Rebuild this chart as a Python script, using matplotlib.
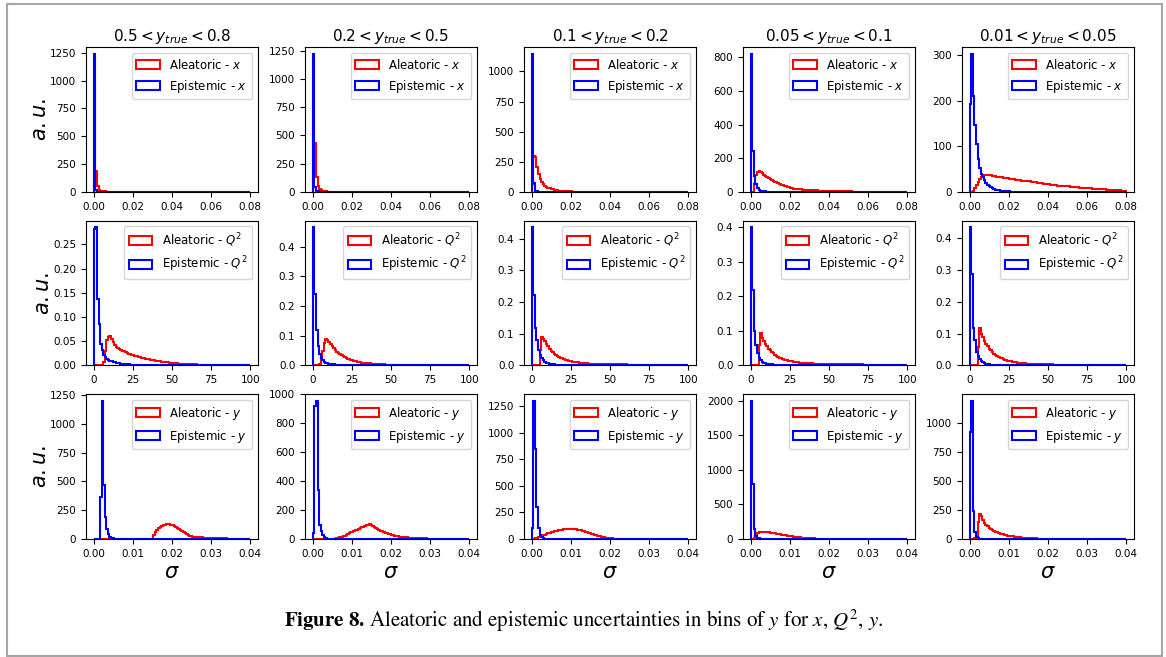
import numpy as np
import matplotlib
matplotlib.use("Agg")
from matplotlib import pyplot as plt
from matplotlib.patches import Rectangle

# bin titles (columns) and variables (rows)
titles = [r"$0.5 < y_{true} < 0.8$", r"$0.2 < y_{true} < 0.5$", r"$0.1 < y_{true} < 0.2$",
          r"$0.05 < y_{true} < 0.1$", r"$0.01 < y_{true} < 0.05$"]
variables = ["x", "Q^2", "y"]
x_max = [0.08, 100, 0.04]
n_bins = 100

# histogram heights per bin (leading bins first, the rest are empty)
ale_x = [
    [960, 190, 57, 22, 12, 8, 6, 5, 4, 3, 3, 2, 2, 2, 1, 1, 1, 1, 1, 1],
    [540, 435, 135, 55, 25, 14, 9, 6, 5, 4, 3, 3, 2, 2, 2, 1, 1, 1, 1, 1],
    [70, 295, 290, 205, 150, 110, 82, 62, 50, 42, 35, 30, 26, 22, 19, 16, 14, 12, 10, 9,
     8, 7, 6, 5, 5, 4, 3, 3, 3, 3, 3, 2, 2, 2, 2, 2, 2, 2, 2, 2, 2] + [1] * 14,
    [0, 0, 45, 100, 120, 122, 118, 110, 102, 95, 88, 82, 76, 70, 65, 61, 57, 52, 47, 43,
     40, 36, 33, 30, 27, 24, 22, 20, 19, 18, 17, 16, 15, 14, 13, 12, 12, 11, 11, 10,
     10, 9, 9, 8, 8, 8, 7, 7, 7, 6, 6, 6, 5, 5, 5, 5, 4, 4, 4, 4,
     3, 3, 3, 3, 3, 2, 2, 2, 2, 2, 2] + [1] * 15,
    [0, 0, 3, 8, 15, 22, 28, 32, 35, 37, 38, 38, 37, 37, 36, 35, 34, 33, 33, 32,
     32, 31, 31, 30, 30, 29, 29, 28, 28, 27, 27, 26, 26, 25, 25, 24, 24, 23, 23, 22,
     22, 21, 21, 20, 20, 19, 19, 18, 18, 17, 17, 16, 16, 15, 15, 15, 14, 14, 13, 13,
     13, 12, 12, 12, 11, 11, 11, 10, 10, 10, 9, 9, 9, 9, 8, 8, 8, 8, 7, 7,
     7, 7, 6, 6, 6, 6, 6, 5, 5, 5, 5, 5, 4, 4, 4, 4, 4, 3, 3, 3],
]
epi_x = [
    [1240, 15, 4, 2, 1],
    [1222, 40, 12, 5, 2, 1],
    [1145, 72, 12, 5, 2, 1],
    [820, 245, 95, 45, 22, 12, 7, 5, 4, 3, 2, 2, 1, 1, 1],
    [192, 303, 210, 148, 105, 73, 52, 40, 33, 26, 20, 16, 12, 10, 8, 6, 5, 4, 4, 3,
     3, 2, 2, 2, 2, 2] + [1] * 10,
]

ale_q2 = [
    [0, 0, 0, 0, 0, 0.002, 0.008, 0.03, 0.052, 0.058, 0.060, 0.055, 0.048, 0.043, 0.039,
     0.036, 0.034, 0.032, 0.030, 0.029, 0.027, 0.026, 0.024, 0.023, 0.022, 0.021, 0.020,
     0.019, 0.018, 0.017, 0.016, 0.015, 0.015, 0.014, 0.013, 0.013, 0.012, 0.011, 0.011,
     0.010, 0.010, 0.009, 0.009, 0.008, 0.008, 0.008, 0.007, 0.007, 0.006, 0.006, 0.006,
     0.005, 0.005, 0.005, 0.004, 0.004, 0.004, 0.004] + [0.003] * 8 + [0.002] * 15 + [0.001] * 15,
    [0, 0, 0, 0, 0.005, 0.02, 0.05, 0.075, 0.088, 0.087, 0.080, 0.072, 0.065, 0.058, 0.052,
     0.047, 0.042, 0.038, 0.034, 0.031, 0.028, 0.025, 0.023, 0.021, 0.019, 0.017, 0.016,
     0.014, 0.013, 0.012, 0.011, 0.010, 0.009, 0.009, 0.008, 0.007, 0.007, 0.006, 0.006,
     0.005, 0.005] + [0.004] * 5 + [0.003] * 7 + [0.002] * 10 + [0.001] * 18,
    [0, 0, 0, 0, 0, 0.05, 0.091, 0.085, 0.076, 0.067, 0.060, 0.053, 0.047, 0.042, 0.037,
     0.033, 0.030, 0.027, 0.024, 0.022, 0.020, 0.018, 0.017, 0.015, 0.014, 0.013, 0.012,
     0.011, 0.010, 0.010, 0.009, 0.008, 0.008, 0.007, 0.007, 0.007]
    + [0.006] * 9 + [0.005] * 8 + [0.004] * 8 + [0.003] * 15 + [0.002] * 15 + [0.001] * 9,
    [0, 0, 0, 0, 0, 0.06, 0.095, 0.080, 0.070, 0.062, 0.055, 0.049, 0.044, 0.039, 0.035,
     0.031, 0.028, 0.025, 0.023, 0.021, 0.019, 0.017, 0.016, 0.015, 0.014, 0.013, 0.012,
     0.011, 0.010, 0.010, 0.009, 0.008, 0.008, 0.007, 0.007, 0.007, 0.006, 0.006, 0.006,
     0.006] + [0.005] * 9 + [0.004] * 8 + [0.003] * 15 + [0.002] * 15 + [0.001] * 10,
    [0, 0, 0, 0, 0, 0.058, 0.118, 0.100, 0.088, 0.077, 0.068, 0.060, 0.053, 0.047, 0.042,
     0.037, 0.033, 0.030, 0.027, 0.024, 0.022, 0.020, 0.018, 0.016, 0.015, 0.014, 0.013,
     0.012, 0.011, 0.010, 0.009, 0.008, 0.008, 0.008, 0.007, 0.007, 0.006, 0.006, 0.006,
     0.006] + [0.005] * 6 + [0.004] * 7 + [0.003] * 8 + [0.002] * 20 + [0.001] * 15,
]
epi_q2 = [
    [0.282, 0.285, 0.138, 0.086, 0.045, 0.031, 0.022, 0.017, 0.014, 0.012, 0.010, 0.009,
     0.008, 0.007, 0.006, 0.005, 0.005, 0.004, 0.004, 0.003, 0.003, 0.003, 0.003, 0.002,
     0.002, 0.002, 0.002, 0.002] + [0.001] * 10,
    [0.465, 0.240, 0.120, 0.065, 0.040, 0.025, 0.018, 0.013, 0.010, 0.008, 0.006, 0.005,
     0.004, 0.004, 0.003, 0.003, 0.002, 0.002, 0.002, 0.002] + [0.001] * 10,
    [0.435, 0.222, 0.117, 0.080, 0.050, 0.032, 0.022, 0.016, 0.012, 0.009, 0.007, 0.006,
     0.005, 0.004, 0.004, 0.003, 0.003, 0.002, 0.002, 0.002, 0.002] + [0.001] * 10,
    [0.400, 0.220, 0.100, 0.060, 0.035, 0.022, 0.015, 0.011, 0.008, 0.006, 0.005, 0.004,
     0.003, 0.003, 0.002, 0.002, 0.002] + [0.001] * 10,
    [0.432, 0.286, 0.117, 0.079, 0.042, 0.030, 0.020, 0.014, 0.010, 0.008, 0.006, 0.005,
     0.004, 0.003, 0.003, 0.002, 0.002, 0.002] + [0.001] * 10,
]

ale_y = [
    [0] * 38 + [35, 60, 78, 92, 105, 114, 120, 124, 127, 128, 127, 126, 120, 112, 103, 95,
                86, 78, 70, 62, 52, 44, 36, 28, 24, 21, 19, 18, 17, 16, 15, 14, 13, 12, 11,
                10, 10, 9, 8, 8, 7, 7, 6, 6, 5, 5, 5, 4, 4, 4, 3, 3, 3, 3, 2, 2, 2, 2, 2,
                1, 1, 1],
    [0] * 12 + [1, 2, 3, 5, 8, 11, 15, 19, 24, 29, 34, 39, 45, 50, 55, 60, 65, 70, 75, 80,
                85, 90, 95, 100, 102, 95, 88, 82, 76, 70, 64, 58, 53, 48, 43, 39, 35, 32,
                29, 26, 23, 21, 19, 17, 15, 14, 13, 12, 11, 10, 9, 8, 8, 7, 6, 6, 5, 5, 4,
                4, 4, 3, 3, 3, 2, 2, 2, 2, 2] + [1] * 10,
    [0, 2, 5, 10, 16, 22, 28, 34, 40, 46, 52, 57, 62, 67, 71, 75, 79, 82, 85, 88, 90, 92,
     93, 94, 95, 95, 94, 93, 91, 89, 86, 83, 79, 75, 70, 65, 60, 55, 50, 45, 40, 35, 30,
     26, 22, 18, 15, 12, 10, 8, 6, 5, 4, 3, 3, 2, 2, 1, 1, 1, 1],
    [0, 0, 20, 60, 85, 95, 100, 102, 102, 100, 98, 95, 92, 88, 84, 80, 76, 72, 68, 64, 60,
     56, 52, 48, 44, 40, 37, 34, 31, 28, 25, 22, 20, 18, 16, 14, 12, 11, 10, 9, 8, 7, 6,
     5, 5, 4, 4, 3, 3, 3, 2, 2, 2, 2, 1, 1, 1, 1, 1, 1],
    [0, 0, 0, 5, 15, 150, 215, 195, 165, 140, 122, 108, 96, 86, 78, 70, 63, 57, 52, 47,
     43, 39, 35, 32, 29, 26, 24, 22, 20, 18, 16, 14, 13, 12, 11, 10, 9, 8, 7, 6, 6, 5, 5,
     4, 4, 3, 3, 3, 3, 2, 2, 2, 2, 2, 2, 2] + [1] * 10,
]
epi_y = [
    [0, 0, 0, 0, 365, 1200, 470, 190, 90, 45, 20, 10, 5, 2, 1],
    [40, 920, 955, 340, 100, 55, 25, 12, 6, 3, 1],
    [100, 1300, 850, 300, 100, 40, 15, 6, 2, 1],
    [2000, 800, 150, 50, 20, 8, 3, 1],
    [925, 1190, 238, 57, 20, 8, 3, 1],
]

aleatoric = [ale_x, ale_q2, ale_y]
epistemic = [epi_x, epi_q2, epi_y]


def pad(vals):
    vals = list(vals)[:n_bins]
    return np.array(vals + [0] * (n_bins - len(vals)), dtype=float)


def draw_hist(ax, vals, edges, color, label):
    centers = 0.5 * (edges[:-1] + edges[1:])
    ax.hist(centers, bins=edges, weights=pad(vals), histtype="step",
            color=color, linewidth=1.5, label=label)


W, H = 1166, 657
fig = plt.figure(figsize=(W / 100, H / 100), dpi=100)
gs = fig.add_gridspec(3, 5, left=86 / W, right=1134 / W, top=1 - 47 / H, bottom=1 - 539 / H,
                      wspace=0.273, hspace=0.197)

for r in range(3):
    edges = np.linspace(0, x_max[r], n_bins + 1)
    for c in range(5):
        ax = fig.add_subplot(gs[r, c])
        draw_hist(ax, aleatoric[r][c], edges, "red", "Aleatoric - $%s$" % variables[r])
        draw_hist(ax, epistemic[r][c], edges, "blue", "Epistemic - $%s$" % variables[r])
        ax.tick_params(labelsize=7.5)
        ax.legend(loc="upper right", fontsize=8.5)
        if r == 0:
            ax.set_title(titles[c], fontsize=11, pad=4)
        if c == 0:
            ax.set_ylabel("$a.u.$", fontsize=15, labelpad=0)
        if r == 2:
            ax.set_xlabel(r"$\sigma$", fontsize=15, labelpad=2)

# page frame and caption
fig.patches.append(Rectangle((7 / W, 1 / H), 1155 / W, 652 / H, transform=fig.transFigure,
                             fill=False, edgecolor="#a6a6a6", linewidth=1.5))
caption = (r"$\mathbf{Figure\ 8.}\,$Aleatoric and epistemic uncertainties in bins of $y$ "
           r"for $x$, $Q^2$, $y$.")
fig.text(584 / W, 1 - 621 / H, caption, fontsize=15, family="STIXGeneral",
         math_fontfamily="stix", va="center", ha="center")

fig.savefig("out.png", dpi=100)
